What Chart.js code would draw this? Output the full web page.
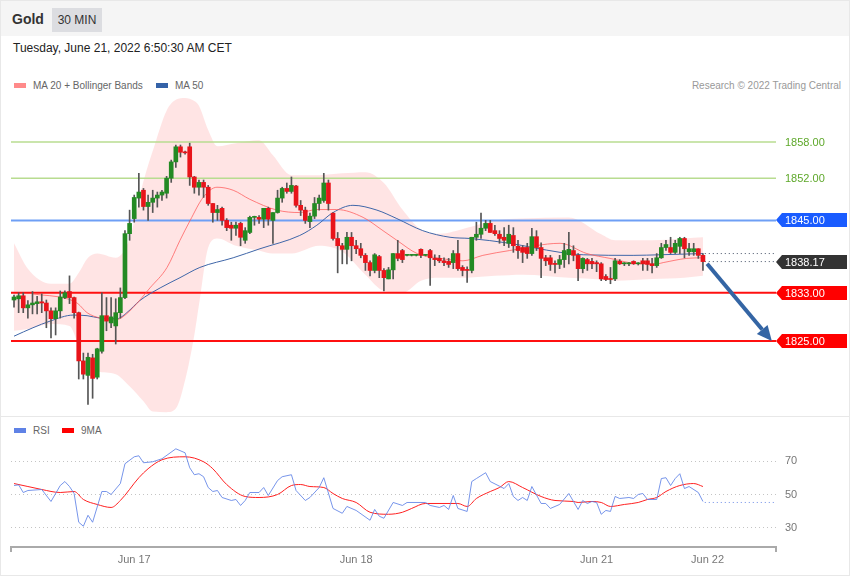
<!DOCTYPE html>
<html lang="en">
<head>
<meta charset="UTF-8">
<title>Gold 30 MIN</title>
<script src="https://cdn.jsdelivr.net/npm/chart.js"></script>
<style>
  body { margin: 0; background: #fff; font-family: Arial, "Liberation Sans", sans-serif; }
  #page { position: relative; width: 850px; height: 576px; overflow: hidden; background: #fff; }
  #frame { position: absolute; left: 0; top: 0; width: 848px; height: 574px; border: 1px solid #e8e8e8; }
  #header { position: absolute; left: 1px; top: 1px; width: 848px; height: 35px; background: #f5f5f5; }
  #title { position: absolute; left: 11px; top: 10px; font-size: 14px; font-weight: bold; color: #333; }
  #period { position: absolute; left: 51px; top: 7px; width: 50px; height: 24px; line-height: 24px; background: #dcdde1; color: #333; font-size: 12px; text-align: center; }
  #stamp { position: absolute; left: 13px; top: 41px; font-size: 12px; color: #222; }
  .legend { position: absolute; font-size: 10px; color: #666; white-space: nowrap; }
  .sw { display: inline-block; width: 12px; height: 5px; vertical-align: middle; margin-right: 7px; position: relative; top: -1px; }
  #credit { position: absolute; right: 9px; top: 80px; font-size: 10px; color: #999; }
  #divider { position: absolute; left: 0; top: 416px; width: 850px; height: 1px; background: #e8e8e8; }
  #main { position: absolute; left: 0; top: 92px; }
  #rsi { position: absolute; left: 0; top: 441px; }
</style>
</head>
<body>
<div id="page">
  <div id="frame"></div>
  <div id="header">
    <div id="title">Gold</div>
    <div id="period">30 MIN</div>
  </div>
  <div id="stamp">Tuesday, June 21, 2022 6:50:30 AM CET</div>
  <div class="legend" style="left:14px; top:80px;"><span class="sw" style="background:#ff8a8a"></span>MA 20 + Bollinger Bands</div>
  <div class="legend" style="left:156px; top:80px;"><span class="sw" style="background:#3563a8"></span>MA 50</div>
  <div id="credit">Research © 2022 Trading Central</div>
  <div id="divider"></div>
  <div class="legend" style="left:14px; top:425px;"><span class="sw" style="background:#5f82e6"></span>RSI</div>
  <div class="legend" style="left:62px; top:425px;"><span class="sw" style="background:#ff0000"></span>9MA</div>
  <canvas id="main" width="850" height="323"></canvas>
  <canvas id="rsi" width="850" height="134"></canvas>
</div>

<script>
// 30 min candles: [open, high, low, close]
const candles = [
  [1831.8, 1832.6, 1830.6, 1832.3], [1832.0, 1833.0, 1829.7, 1832.5], [1832.5, 1833.0, 1829.7, 1830.5],
  [1830.5, 1831.7, 1828.8, 1831.0], [1831.0, 1833.2, 1829.5, 1831.3], [1831.2, 1832.4, 1829.5, 1831.5],
  [1831.5, 1832.8, 1829.7, 1831.3], [1831.3, 1831.8, 1827.2, 1830.0], [1830.0, 1830.5, 1825.5, 1828.7],
  [1828.7, 1830.5, 1826.0, 1830.0], [1830.0, 1833.3, 1828.8, 1832.3], [1832.2, 1833.3, 1832.0, 1833.0],
  [1833.2, 1835.8, 1831.2, 1832.2], [1832.2, 1832.3, 1828.8, 1829.7], [1829.7, 1829.8, 1818.7, 1821.7],
  [1821.7, 1823.0, 1818.7, 1819.5], [1819.3, 1823.0, 1814.5, 1822.3], [1822.2, 1822.8, 1815.5, 1818.8],
  [1819.0, 1823.8, 1818.7, 1823.7], [1823.3, 1833.0, 1823.0, 1829.2], [1829.2, 1832.2, 1826.7, 1828.3],
  [1828.0, 1832.2, 1827.2, 1829.0], [1827.5, 1832.0, 1824.5, 1829.7], [1829.7, 1833.8, 1828.8, 1832.2],
  [1832.2, 1843.3, 1832.0, 1842.8], [1842.8, 1846.7, 1841.7, 1844.5], [1845.3, 1849.2, 1844.7, 1848.8],
  [1848.7, 1852.8, 1847.2, 1849.7], [1850.0, 1850.3, 1846.7, 1847.3], [1847.3, 1849.2, 1845.0, 1848.0],
  [1848.0, 1850.0, 1846.3, 1848.7], [1848.7, 1849.7, 1847.2, 1849.2], [1849.2, 1850.0, 1848.3, 1849.7],
  [1849.5, 1852.3, 1848.7, 1852.0], [1852.0, 1855.0, 1851.3, 1854.7], [1854.7, 1857.5, 1853.8, 1857.2],
  [1857.2, 1857.5, 1855.5, 1856.3], [1856.3, 1856.5, 1856.0, 1856.2], [1857.2, 1857.8, 1850.8, 1852.2],
  [1852.2, 1852.3, 1849.5, 1850.5], [1850.5, 1851.7, 1849.2, 1851.3], [1851.3, 1851.7, 1848.8, 1850.5],
  [1850.5, 1850.8, 1847.5, 1847.8], [1847.8, 1847.8, 1844.7, 1846.3], [1846.3, 1847.5, 1845.0, 1846.8],
  [1847.0, 1847.2, 1844.2, 1845.0], [1845.0, 1845.3, 1843.3, 1843.8], [1844.2, 1844.7, 1841.7, 1843.7],
  [1843.7, 1844.7, 1842.5, 1844.2], [1844.5, 1844.7, 1840.8, 1842.2], [1841.7, 1843.8, 1841.2, 1843.3],
  [1843.0, 1845.7, 1842.8, 1845.5], [1845.5, 1845.7, 1844.2, 1845.5], [1845.5, 1845.8, 1844.5, 1845.2],
  [1845.2, 1847.0, 1843.8, 1847.0], [1847.0, 1847.2, 1844.2, 1845.2], [1845.0, 1846.3, 1841.2, 1846.3],
  [1846.3, 1850.0, 1846.2, 1848.7], [1848.7, 1850.5, 1848.0, 1850.3], [1850.3, 1851.2, 1849.5, 1849.8],
  [1849.8, 1852.2, 1849.5, 1850.8], [1850.7, 1850.8, 1847.2, 1847.5], [1847.5, 1848.3, 1845.8, 1846.7],
  [1846.7, 1847.2, 1844.5, 1845.0], [1844.8, 1846.2, 1843.8, 1845.7], [1845.7, 1848.8, 1845.3, 1847.8],
  [1847.8, 1849.2, 1846.7, 1848.7], [1848.3, 1852.8, 1848.0, 1851.2], [1851.2, 1851.7, 1846.7, 1847.8],
  [1846.2, 1846.3, 1841.7, 1842.0], [1842.0, 1843.0, 1836.3, 1840.8], [1840.8, 1841.2, 1837.8, 1840.2],
  [1840.2, 1843.0, 1837.8, 1842.2], [1842.2, 1843.0, 1838.3, 1840.8], [1840.8, 1841.7, 1839.5, 1840.3],
  [1840.3, 1841.2, 1838.8, 1839.2], [1839.2, 1839.5, 1836.7, 1838.0], [1838.0, 1838.3, 1835.8, 1836.7],
  [1836.7, 1839.5, 1836.3, 1839.3], [1839.0, 1839.2, 1835.5, 1836.7], [1836.7, 1837.0, 1833.3, 1835.5],
  [1835.3, 1837.2, 1835.3, 1836.8], [1836.8, 1839.5, 1835.3, 1839.5], [1839.5, 1841.7, 1838.3, 1838.7],
  [1840.0, 1840.2, 1838.0, 1838.5], [1839.2, 1839.3, 1839.1, 1839.2], [1839.2, 1839.3, 1839.1, 1839.2],
  [1839.2, 1839.3, 1839.1, 1839.2], [1840.2, 1840.3, 1838.8, 1839.2], [1839.2, 1839.3, 1839.1, 1839.2],
  [1840.0, 1840.2, 1834.2, 1838.8], [1838.7, 1839.3, 1837.5, 1838.5], [1838.7, 1839.2, 1838.0, 1838.3],
  [1838.3, 1838.8, 1837.5, 1838.0], [1838.2, 1838.7, 1837.2, 1837.7], [1838.0, 1840.0, 1837.0, 1839.5],
  [1839.5, 1841.7, 1836.7, 1837.0], [1837.2, 1837.5, 1835.8, 1836.7], [1836.8, 1837.3, 1834.7, 1836.7],
  [1836.7, 1842.2, 1836.3, 1842.2], [1842.2, 1844.7, 1841.7, 1842.7], [1842.7, 1846.2, 1842.0, 1843.7],
  [1843.7, 1845.0, 1843.3, 1844.5], [1844.5, 1845.0, 1843.0, 1843.0], [1843.3, 1844.2, 1842.5, 1842.8],
  [1842.7, 1843.3, 1841.2, 1842.0], [1842.2, 1843.8, 1840.8, 1841.7], [1841.2, 1844.2, 1840.5, 1842.7],
  [1842.5, 1843.8, 1839.7, 1840.8], [1840.7, 1841.7, 1838.7, 1840.0], [1840.5, 1840.8, 1838.0, 1839.7],
  [1840.5, 1841.2, 1838.7, 1839.5], [1839.5, 1843.7, 1839.2, 1842.3], [1842.3, 1843.3, 1840.0, 1840.5],
  [1840.5, 1841.3, 1835.5, 1838.7], [1838.8, 1839.2, 1837.5, 1838.3], [1838.8, 1839.2, 1836.7, 1837.7],
  [1837.8, 1838.3, 1836.3, 1837.7], [1837.7, 1839.2, 1837.0, 1838.5], [1838.5, 1841.2, 1837.2, 1840.0],
  [1839.3, 1843.0, 1837.8, 1840.2], [1840.0, 1840.8, 1838.3, 1839.2], [1839.2, 1839.5, 1835.0, 1837.0],
  [1837.0, 1838.8, 1836.3, 1838.7], [1838.5, 1838.7, 1836.7, 1837.8], [1838.2, 1838.7, 1837.0, 1837.8],
  [1838.0, 1838.3, 1836.5, 1837.8], [1837.8, 1838.0, 1835.0, 1835.3], [1835.7, 1836.0, 1835.0, 1835.2],
  [1835.3, 1837.2, 1834.5, 1835.2], [1835.3, 1838.7, 1835.0, 1838.3], [1838.2, 1838.5, 1837.7, 1837.8],
  [1837.8, 1838.0, 1837.5, 1837.8], [1837.8, 1838.0, 1837.5, 1837.8], [1838.2, 1838.3, 1837.7, 1837.8],
  [1837.8, 1838.0, 1837.6, 1837.8], [1838.3, 1838.7, 1836.7, 1837.8], [1838.3, 1838.7, 1836.7, 1837.7],
  [1837.8, 1838.7, 1836.3, 1837.5], [1837.5, 1839.5, 1837.2, 1838.8], [1838.8, 1841.2, 1838.7, 1840.5],
  [1840.5, 1841.7, 1840.0, 1841.0], [1840.5, 1842.2, 1839.5, 1839.7], [1839.7, 1841.7, 1839.5, 1841.2],
  [1840.7, 1842.2, 1839.5, 1842.0], [1842.0, 1842.2, 1838.8, 1840.3], [1839.8, 1841.2, 1839.2, 1840.3],
  [1839.8, 1841.2, 1839.2, 1840.3], [1840.3, 1840.3, 1838.7, 1839.2], [1839.2, 1839.5, 1836.7, 1838.17]
];

// MA 20 (read at candle positions)
const ma20Idx = [4, 11.5, 13.8, 15.8, 18.6, 21.4, 22.9, 25.7, 29.4, 33.1, 35.9, 38.1, 40.9, 43.9, 47.4, 51, 56.9, 61.8, 65.5, 69.8, 75.5, 79.8, 82.8, 87.2, 91.5, 97.1, 101.4, 107.2, 118.1, 123.9, 128.9, 135.4, 139.1, 140.4, 145.5, 149];
const ma20Val = [1832.8, 1832.0, 1831.2, 1829.7, 1828.8, 1828.5, 1828.7, 1830.5, 1833.8, 1837.2, 1841.7, 1845.0, 1848.8, 1850.5, 1850.0, 1848.5, 1846.7, 1846.3, 1846.8, 1846.8, 1845.5, 1843.3, 1841.7, 1839.5, 1838.8, 1838.3, 1839.2, 1840.0, 1841.2, 1839.5, 1838.7, 1837.8, 1837.8, 1838.0, 1838.7, 1838.8];

// MA 50
const ma50Idx = [0, 4.1, 7.8, 12.8, 15.8, 18.6, 22.3, 24.4, 27.2, 31.6, 35.9, 40.2, 47.4, 53.2, 61.8, 65.5, 69, 73.3, 78.5, 82.8, 88.4, 94.3, 98.6, 107.2, 112.2, 118.1, 123.1, 133.9, 139.7, 149];
const ma50Val = [1825.8, 1827.2, 1828.3, 1829.3, 1829.2, 1828.8, 1828.7, 1829.7, 1831.7, 1833.8, 1835.5, 1837.2, 1838.8, 1840.3, 1842.5, 1844.2, 1846.3, 1847.5, 1846.7, 1845.3, 1843.3, 1842.2, 1842.0, 1841.2, 1840.5, 1839.7, 1839.3, 1839.2, 1839.3, 1839.5];

// Bollinger bands
const bandIdx = [0, 3, 8, 12, 14, 16, 18, 22, 25, 28, 30, 33, 35, 37, 39, 40, 42, 44, 48, 53, 56, 60, 66, 71, 76, 80, 84, 88, 92, 98, 104, 110, 120, 127, 130, 138, 145, 149];
const bandUpper = [1841.2, 1837.0, 1834.5, 1834.5, 1836.3, 1838.8, 1839.5, 1838.8, 1842.0, 1851.5, 1856.5, 1863.2, 1865.0, 1865.3, 1864.8, 1864.0, 1860.0, 1857.3, 1857.8, 1858.3, 1855.8, 1852.5, 1852.5, 1852.8, 1853.0, 1851.2, 1846.8, 1843.5, 1842.8, 1843.8, 1845.0, 1845.3, 1845.5, 1842.7, 1841.7, 1841.7, 1842.0, 1842.2];
const bandLower = [1826.7, 1827.0, 1827.8, 1827.5, 1824.3, 1821.0, 1820.0, 1819.5, 1817.5, 1815.0, 1813.3, 1813.2, 1813.8, 1818.5, 1826.0, 1831.0, 1840.5, 1842.0, 1840.8, 1840.0, 1839.5, 1839.5, 1840.8, 1839.8, 1836.0, 1833.3, 1833.0, 1835.0, 1835.5, 1835.5, 1835.8, 1836.0, 1835.5, 1835.2, 1835.0, 1835.3, 1835.5, 1835.8];

// support / resistance levels and last price
const resistances = [1858, 1852, 1845];
const supports = [1833, 1825];
const lastPrice = 1838.17;
const ma50Last = 1839.5;

// forecast arrow: [candle index, price]
const arrowFrom = [149.9, 1837.8];
const arrowTo = [163.9, 1825.0];

// RSI
const rsiIdx = [0, 1, 2, 3, 6, 8, 10, 11, 12, 13, 14, 15, 16, 17, 19, 20, 21, 23, 24, 26, 27, 28, 30, 32, 35, 37, 38, 39, 40, 41, 42, 43, 44, 45, 47, 48, 49, 50, 51, 53, 54, 55, 57, 58, 60, 61, 63, 64, 66, 67, 69, 71, 72, 74, 77, 78, 79, 80, 82, 84, 85, 89, 90, 92, 93, 94, 95, 96, 98, 99, 100, 102, 103, 106, 107, 108, 109, 110, 111, 112, 114, 115, 116, 118, 120, 122, 123, 124, 125, 126, 127, 128, 129, 130, 131, 133, 134, 135, 136, 137, 139, 140, 141, 142, 143, 144, 145, 146, 148, 149];
const rsiVal = [55.4, 55.8, 51.2, 52.4, 53.0, 45.8, 55.4, 57.8, 54.8, 50.6, 33.3, 30.9, 37.5, 33.3, 51.8, 51.8, 50.0, 56.6, 68.5, 72.7, 73.3, 69.1, 69.7, 71.5, 77.5, 75.1, 66.1, 61.9, 62.5, 60.7, 54.2, 51.8, 52.4, 48.2, 46.4, 47.0, 43.4, 46.4, 51.2, 51.2, 54.2, 49.4, 58.4, 60.7, 61.9, 52.4, 46.4, 48.2, 54.2, 60.1, 41.6, 38.7, 42.8, 40.4, 34.5, 41.0, 36.9, 35.7, 45.2, 43.4, 45.2, 45.2, 43.4, 42.2, 43.4, 41.0, 49.4, 41.6, 39.8, 57.8, 59.6, 63.1, 57.8, 53.6, 56.6, 48.8, 46.4, 48.2, 46.4, 54.8, 44.6, 44.6, 41.6, 44.0, 50.6, 41.0, 46.4, 44.6, 45.8, 45.2, 38.1, 40.4, 39.8, 48.8, 47.6, 48.2, 47.6, 50.0, 50.6, 47.0, 47.0, 59.6, 60.1, 55.4, 59.6, 62.5, 53.6, 54.8, 51.2, 45.8];
const rsiMaIdx = [0, 3, 6, 10, 13, 15, 18, 21, 23, 27, 29, 32, 37, 41, 43, 46, 50, 53, 57, 60, 62, 64, 67, 69, 71, 74, 77, 81, 84, 86, 89, 93, 96, 98, 100, 103, 105, 107, 110, 114, 117, 121, 122, 125, 127, 129, 132, 135, 137, 139, 141, 144, 147, 149];
const rsiMaVal = [56.6, 54.8, 53.0, 51.2, 51.8, 47.0, 44.0, 42.2, 46.4, 60.1, 65.5, 70.9, 72.7, 69.7, 65.5, 56.0, 48.8, 48.2, 50.0, 55.4, 56.0, 54.8, 54.2, 50.6, 47.6, 45.2, 39.3, 38.1, 39.3, 41.6, 44.6, 44.6, 44.6, 42.8, 47.6, 51.8, 54.2, 57.8, 54.2, 48.8, 46.4, 45.8, 45.2, 45.8, 45.2, 42.8, 44.0, 45.2, 47.0, 48.2, 51.8, 55.4, 56.6, 54.8];
const rsiLast = 45.2;
const rsiTicks = [30, 50, 70];

// x axis day labels
const dayIdx = [26, 74, 126, 150];
const dayLabels = ['Jun 17', 'Jun 18', 'Jun 21', 'Jun 22'];

const X_MIN = -0.65, X_MAX = 164.8;
const PRICE_MAX = 1866.29, PRICE_MIN = 1812.73;
Chart.defaults.font.family = 'Arial, "Liberation Sans", sans-serif';

const pts = (xs, ys) => xs.map((x, k) => ({ x: x, y: ys[k] }));
const flat = (x0, x1, v) => [{ x: x0, y: v }, { x: x1, y: v }];

const upColor = '#238a23', downColor = '#e8141a';

function levelLine(v, color, width) {
  return {
    type: 'line', data: flat(X_MIN, X_MAX, v), borderColor: color, borderWidth: width,
    pointRadius: 0, order: 8
  };
}

const tagList = [
  { v: 1858, fill: null, text: '#5ea82a' },
  { v: 1852, fill: null, text: '#5ea82a' },
  { v: 1845, fill: '#1a5cff', text: '#fff' },
  { v: lastPrice, fill: '#333333', text: '#fff' },
  { v: 1833, fill: '#ff0000', text: '#fff' },
  { v: 1825, fill: '#ff0000', text: '#fff' }
];

const tagPlugin = {
  id: 'tags',
  afterDraw(chart) {
    const ctx = chart.ctx, ys = chart.scales.y, right = chart.chartArea.right;
    ctx.save();
    ctx.font = '11px Arial, "Liberation Sans", sans-serif';
    ctx.textBaseline = 'middle';
    tagList.forEach(t => {
      const y = Math.round(ys.getPixelForValue(t.v));
      if (t.fill) {
        ctx.fillStyle = t.fill;
        ctx.beginPath();
        ctx.moveTo(right, y);
        ctx.lineTo(right + 6, y - 7);
        ctx.lineTo(right + 71, y - 7);
        ctx.lineTo(right + 71, y + 7);
        ctx.lineTo(right + 6, y + 7);
        ctx.closePath();
        ctx.fill();
      }
      ctx.fillStyle = t.text;
      ctx.fillText(t.v.toFixed(2), right + 9, y + 1);
    });
    ctx.restore();
  }
};

const arrowPlugin = {
  id: 'arrow',
  afterDatasetsDraw(chart) {
    const ctx = chart.ctx, xs = chart.scales.x, ys = chart.scales.y;
    const x1 = xs.getPixelForValue(arrowFrom[0]), y1 = ys.getPixelForValue(arrowFrom[1]);
    const x2 = xs.getPixelForValue(arrowTo[0]), y2 = ys.getPixelForValue(arrowTo[1]);
    const a = Math.atan2(y2 - y1, x2 - x1);
    const head = 15, half = 7;
    const bx = x2 - head * Math.cos(a), by = y2 - head * Math.sin(a);
    ctx.save();
    ctx.strokeStyle = '#3465a4';
    ctx.fillStyle = '#3465a4';
    ctx.lineWidth = 4;
    ctx.beginPath();
    ctx.moveTo(x1, y1);
    ctx.lineTo(bx, by);
    ctx.stroke();
    ctx.beginPath();
    ctx.moveTo(x2, y2);
    ctx.lineTo(bx + half * Math.sin(a), by - half * Math.cos(a));
    ctx.lineTo(bx - half * Math.sin(a), by + half * Math.cos(a));
    ctx.closePath();
    ctx.fill();
    ctx.restore();
  }
};

new Chart(document.getElementById('main'), {
  type: 'bar',
  data: {
    datasets: [
      {
        type: 'bar', data: candles.map((c, i) => ({ x: i, y: [c[0], c[3]] })),
        backgroundColor: candles.map(c => c[3] >= c[0] ? upColor : downColor),
        barThickness: 4, minBarLength: 1, grouped: false, order: 1
      },
      {
        type: 'bar', data: candles.map((c, i) => ({ x: i, y: [c[2], c[1]] })),
        backgroundColor: '#555', barThickness: 1, grouped: false, order: 2
      },
      {
        type: 'line', data: pts(ma20Idx, ma20Val), borderColor: 'rgba(255,90,90,0.75)', borderWidth: 1,
        pointRadius: 0, cubicInterpolationMode: 'monotone', order: 5
      },
      {
        type: 'line', data: pts(ma50Idx, ma50Val), borderColor: '#3f66a8', borderWidth: 1,
        pointRadius: 0, cubicInterpolationMode: 'monotone', order: 5
      },
      {
        type: 'line', data: flat(149.4, X_MAX, ma50Last), borderColor: '#445066', borderWidth: 1,
        borderDash: [1, 3], pointRadius: 0, order: 6
      },
      {
        type: 'line', data: flat(149.4, X_MAX, lastPrice), borderColor: '#445066', borderWidth: 1,
        borderDash: [1, 3], pointRadius: 0, order: 6
      },
      levelLine(resistances[0], '#b8dc90', 1.5),
      levelLine(resistances[1], '#b8dc90', 1.5),
      levelLine(resistances[2], '#6e9ff5', 2),
      levelLine(supports[0], '#ff1010', 2),
      levelLine(supports[1], '#ff1010', 2),
      {
        type: 'line', data: pts(bandIdx, bandUpper), borderWidth: 0, borderColor: 'rgba(0,0,0,0)',
        pointRadius: 0, cubicInterpolationMode: 'monotone', fill: false, order: 10
      },
      {
        type: 'line', data: pts(bandIdx, bandLower), borderWidth: 0, borderColor: 'rgba(0,0,0,0)',
        pointRadius: 0, cubicInterpolationMode: 'monotone', fill: '-1',
        backgroundColor: 'rgba(255,195,195,0.45)', order: 10
      }
    ]
  },
  options: {
    responsive: false,
    animation: false,
    devicePixelRatio: 1,
    layout: { padding: { left: 11, right: 74, top: 0, bottom: 0 } },
    plugins: { legend: { display: false }, tooltip: { enabled: false } },
    scales: {
      x: { type: 'linear', min: X_MIN, max: X_MAX, display: false, offset: false },
      y: { min: PRICE_MIN, max: PRICE_MAX, display: false }
    }
  },
  plugins: [arrowPlugin, tagPlugin]
});

const capsPlugin = {
  id: 'caps',
  afterDraw(chart) {
    const ctx = chart.ctx, a = chart.chartArea;
    ctx.save();
    ctx.strokeStyle = '#aaa';
    ctx.lineWidth = 2;
    ctx.beginPath();
    ctx.moveTo(a.left, a.bottom);
    ctx.lineTo(a.left, a.bottom + 5);
    ctx.moveTo(a.right, a.bottom);
    ctx.lineTo(a.right, a.bottom + 5);
    ctx.stroke();
    ctx.restore();
  }
};

new Chart(document.getElementById('rsi'), {
  type: 'line',
  data: {
    datasets: [
      {
        data: pts(rsiIdx, rsiVal), borderColor: 'rgba(95,130,230,0.85)', borderWidth: 1,
        pointRadius: 0, tension: 0
      },
      {
        data: pts(rsiMaIdx, rsiMaVal), borderColor: '#ff2020', borderWidth: 1,
        pointRadius: 0, cubicInterpolationMode: 'monotone'
      },
      {
        data: flat(149.4, X_MAX, rsiLast), borderColor: 'rgba(95,130,230,0.9)', borderWidth: 1,
        borderDash: [1, 3], pointRadius: 0
      }
    ]
  },
  options: {
    responsive: false,
    animation: false,
    devicePixelRatio: 1,
    layout: { padding: { left: 11, right: 0, top: 0, bottom: 0 } },
    plugins: { legend: { display: false }, tooltip: { enabled: false } },
    scales: {
      x: {
        type: 'linear', min: X_MIN, max: X_MAX, offset: false,
        afterBuildTicks: s => { s.ticks = dayIdx.map(v => ({ value: v })); },
        afterFit: s => { s.height = 28; s.paddingLeft = 0; s.paddingRight = 0; },
        ticks: {
          autoSkip: false, maxRotation: 0, padding: 6, color: '#777',
          font: { size: 11 }, callback: (v, i) => dayLabels[i]
        },
        grid: { display: false, drawTicks: false },
        border: { display: true, color: '#aaa', width: 2 }
      },
      y: {
        position: 'right', min: 18.4, max: 82.2,
        afterBuildTicks: s => { s.ticks = rsiTicks.map(v => ({ value: v })); },
        afterFit: s => { s.width = 74; s.paddingTop = 0; s.paddingBottom = 0; },
        ticks: { padding: 9, color: '#777', font: { size: 11 } },
        grid: { color: '#c4c4c4', drawTicks: false },
        border: { display: false, dash: [1, 3] }
      }
    }
  },
  plugins: [capsPlugin]
});
</script>
</body>
</html>
